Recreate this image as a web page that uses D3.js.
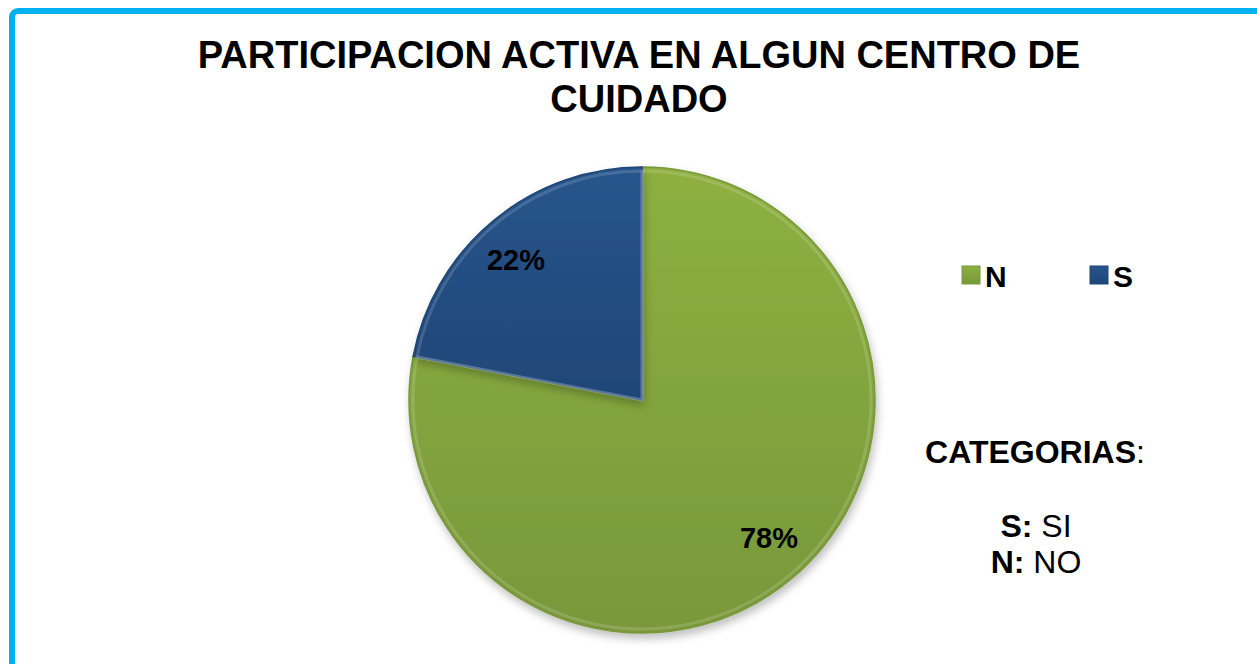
<!DOCTYPE html>
<html>
<head>
<meta charset="utf-8">
<script src="https://cdn.jsdelivr.net/npm/d3@7"></script>
<style>
  body { margin: 0; background: #fff; }
  text { font-family: "Liberation Sans", Arial, sans-serif; }
</style>
</head>
<body>
<div class="pie_plot"></div>
<script>
const categories = ['N', 'S'];
const values = [78, 22];
const colors = ['#8db040', '#28558c'];
const colorsDark = ['#78983a', '#1f4677'];
const titleLines = ['PARTICIPACION ACTIVA EN ALGUN CENTRO DE', 'CUIDADO'];

const width = 1257, height = 664;
const cx = 642, cy = 400, radius = 233;

const svg = d3.select('.pie_plot')
              .append('svg')
              .attr('width', width)
              .attr('height', height);

const defs = svg.append('defs');

// light gradient per slice, plus a soft shadow
categories.forEach((c, i) => {
    const g = defs.append('linearGradient')
                  .attr('id', 'grad' + i)
                  .attr('x1', 0).attr('y1', 0).attr('x2', 0).attr('y2', 1);
    g.append('stop').attr('offset', '0%').attr('stop-color', colors[i]);
    g.append('stop').attr('offset', '100%').attr('stop-color', colorsDark[i]);
});
const shadow = defs.append('filter').attr('id', 'shadow')
                   .attr('x', '-10%').attr('y', '-10%').attr('width', '120%').attr('height', '125%');
shadow.append('feDropShadow')
      .attr('dx', 2).attr('dy', 5).attr('stdDeviation', 4)
      .attr('flood-color', '#000').attr('flood-opacity', 0.25);

// border (only top and left visible)
svg.append('rect')
   .attr('x', 12).attr('y', 11)
   .attr('width', width + 20).attr('height', height + 20)
   .attr('rx', 6)
   .attr('fill', 'none')
   .attr('stroke', '#00b0f0')
   .attr('stroke-width', 6);

// title
svg.append('text')
   .attr('x', 639)
   .attr('y', 68)
   .attr('text-anchor', 'middle')
   .attr('font-size', 38)
   .attr('font-weight', 'bold')
   .selectAll('tspan')
   .data(titleLines)
   .enter()
   .append('tspan')
   .attr('x', 639)
   .attr('dy', (d, i) => i === 0 ? 0 : 44)
   .text(d => d);

const data = categories.map((c, i) => ({cat: c, value: values[i], idx: i}));

const pie = d3.pie()
              .sort(null)
              .value(d => d.value);

const arc = d3.arc()
              .innerRadius(0)
              .outerRadius(radius);

const g = svg.append('g')
             .attr('transform', `translate(${cx}, ${cy})`);

const arcs = pie(data);

g.selectAll('path')
 .data(arcs)
 .enter()
 .append('path')
 .attr('d', arc)
 .attr('fill', d => `url(#grad${d.data.idx})`)
 .attr('stroke', d => colorsDark[d.data.idx])
 .attr('stroke-width', 1.5)
 .attr('filter', 'url(#shadow)');

// thin highlight along slice edges
g.selectAll('.hl')
 .data(arcs)
 .enter()
 .append('path')
 .attr('class', 'hl')
 .attr('d', d3.arc().innerRadius(0).outerRadius(radius - 4))
 .attr('fill', 'none')
 .attr('stroke', '#fff')
 .attr('stroke-opacity', 0.15)
 .attr('stroke-width', 3);

const labelPos = [[127, 140], [-126, -138]];
g.selectAll('.lbl')
 .data(arcs)
 .enter()
 .append('text')
 .attr('class', 'lbl')
 .attr('x', (d, i) => labelPos[i][0])
 .attr('y', (d, i) => labelPos[i][1])
 .attr('text-anchor', 'middle')
 .attr('dominant-baseline', 'middle')
 .attr('font-size', 29)
 .attr('font-weight', 'bold')
 .text(d => d.data.value + '%');

// legend
const legendX = [962, 1090];
const legend = svg.selectAll('.legend')
                  .data(categories)
                  .enter()
                  .append('g')
                  .attr('class', 'legend')
                  .attr('transform', (d, i) => `translate(${legendX[i]}, 266)`);
legend.append('rect')
      .attr('width', 18).attr('height', 18)
      .attr('fill', (d, i) => `url(#grad${i})`)
      .attr('stroke', (d, i) => colorsDark[i]);
legend.append('text')
      .attr('x', 23)
      .attr('y', 21)
      .attr('font-size', 30)
      .attr('font-weight', 'bold')
      .text(d => d);

// categories note
const note = svg.append('g').attr('text-anchor', 'middle');
note.append('text')
    .attr('x', 1035).attr('y', 463)
    .attr('font-size', 32)
    .html('<tspan font-weight="bold">CATEGORIAS</tspan>:');
note.append('text')
    .attr('x', 1036).attr('y', 537)
    .attr('font-size', 32)
    .html('<tspan font-weight="bold">S:</tspan> SI');
note.append('text')
    .attr('x', 1036).attr('y', 573)
    .attr('font-size', 32)
    .html('<tspan font-weight="bold">N:</tspan> NO');
</script>
</body>
</html>
